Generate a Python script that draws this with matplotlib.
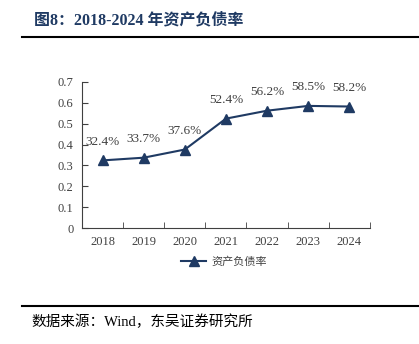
import matplotlib
matplotlib.use("Agg")
import matplotlib.pyplot as plt
from matplotlib.lines import Line2D

years = ["2018", "2019", "2020", "2021", "2022", "2023", "2024"]
ratio = [0.324, 0.337, 0.376, 0.524, 0.562, 0.585, 0.582]
labels = ["32.4%", "33.7%", "37.6%", "52.4%", "56.2%", "58.5%", "58.2%"]
yticks = [0, 0.1, 0.2, 0.3, 0.4, 0.5, 0.6, 0.7]
ytick_labels = ["0", "0.1", "0.2", "0.3", "0.4", "0.5", "0.6", "0.7"]

navy = "#1f3a63"
grey = "#404040"
serif_cjk = ["Liberation Serif", "Noto Sans CJK SC"]

fig = plt.figure(figsize=(4.19, 3.44), dpi=100)
ax = fig.add_axes([0.1957, 0.337, 0.687, 0.425])

x = list(range(len(years)))
ax.plot(x, ratio, color=navy, lw=1.5, marker="^", ms=7, mfc=navy, mec=navy)
for xi, yi, lab in zip(x, ratio, labels):
    ax.annotate(lab, (xi, yi), xytext=(0, 9), textcoords="offset points",
                ha="center", va="bottom", fontsize=9.5, color=grey,
                family="Liberation Serif")

ax.set_xlim(-0.5, len(years) - 0.5)
ax.set_ylim(0, 0.7)
ax.set_yticks(yticks)
ax.set_yticklabels(ytick_labels, family="Liberation Serif", fontsize=9, color=grey)
ax.set_xticks(x)
ax.set_xticklabels(years, family="Liberation Serif", fontsize=9, color=grey)
ax.tick_params(axis="x", length=0, pad=6)
ax.set_xticks([i + 0.5 for i in range(-1, len(years))], minor=True)
ax.tick_params(axis="x", which="minor", direction="in", length=4, color=grey)
ax.tick_params(axis="y", direction="in", length=4, color=grey, pad=6)
for s in ("top", "right"):
    ax.spines[s].set_visible(False)
for s in ("left", "bottom"):
    ax.spines[s].set_color(grey)
    ax.spines[s].set_linewidth(0.8)

handle = Line2D([], [], color=navy, lw=1.5, marker="^", ms=7, mfc=navy, mec=navy)
fig.legend([handle], ["资产负债率"], loc="center", bbox_to_anchor=(0.535, 0.238),
           frameon=False, prop={"family": "Noto Sans CJK SC", "size": 8},
           labelcolor=grey, handlelength=2.2, handletextpad=0.5)

fig.text(0.081, 0.942, "图8：2018-2024 年资产负债率", family=serif_cjk,
         fontsize=11.5, fontweight="bold", color=navy, ha="left", va="center")
fig.add_artist(Line2D([0.053, 1.0], [0.893, 0.893], color="black", lw=1.5))
fig.add_artist(Line2D([0.053, 1.0], [0.11, 0.11], color="black", lw=1.5))
fig.text(0.076, 0.064, "数据来源：Wind，东吴证券研究所", family=serif_cjk,
         fontsize=10.5, color="black", ha="left", va="center")

fig.savefig("out.png", dpi=100)
